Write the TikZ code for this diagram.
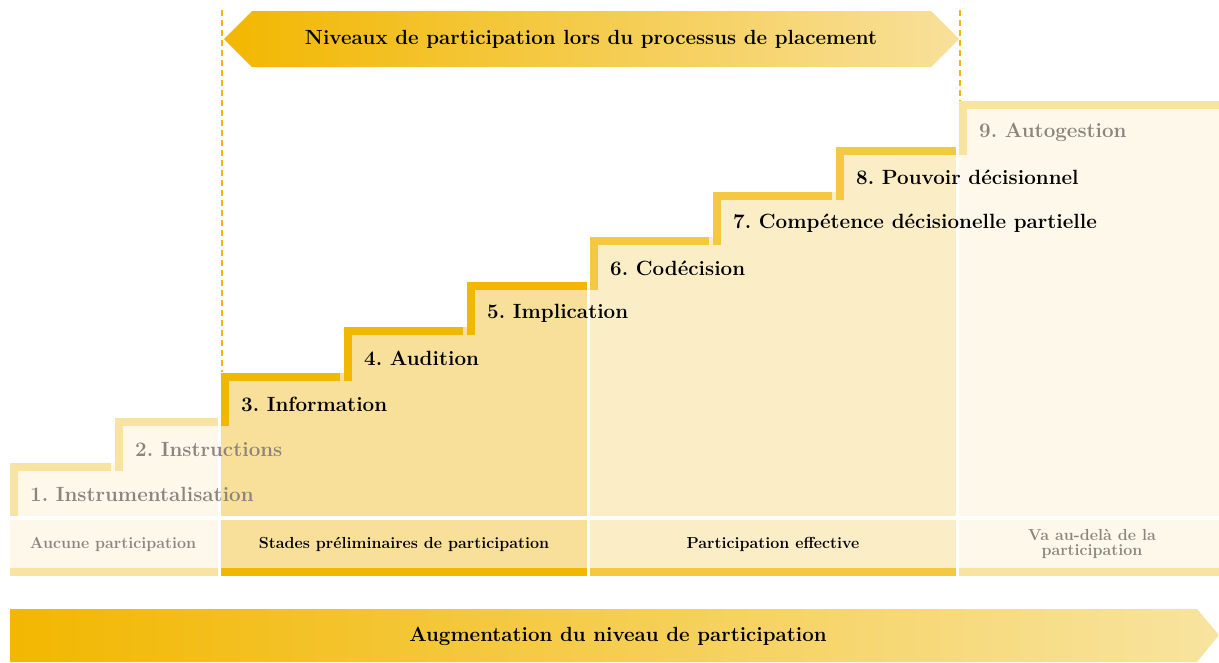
\documentclass[tikz,border=0pt]{standalone}
\usepackage{tikz}
\frenchspacing

\definecolor{goldDark}{HTML}{F2B700}
\definecolor{goldMid}{HTML}{F5C842}
\definecolor{goldPale}{HTML}{F8E4A0}
\definecolor{fillDark}{HTML}{F8E09A}
\definecolor{fillMid}{HTML}{FBEDC6}
\definecolor{fillPale}{HTML}{FDF8E9}
\definecolor{textGray}{HTML}{8A867C}

\begin{document}
\begin{tikzpicture}[x=1pt,y=-1pt,
  stepText/.style={anchor=west,inner sep=0pt,font=\bfseries\fontsize{20.6}{24}\selectfont},
  groupText/.style={align=center,inner sep=0pt,font=\bfseries\fontsize{16}{15}\selectfont},
  bannerText/.style={inner sep=0pt,font=\bfseries\fontsize{20.5}{24}\selectfont},
  guide/.style={goldDark,line width=2pt,dash pattern=on 6pt off 4pt}]
\useasboundingbox (0,0) rectangle (1219,662);

% Dashed guide lines
\draw[guide] (222,10) -- (222,372);
\draw[guide] (960,10) -- (960,101);

% Top banner
\shade[left color=goldDark, right color=fillDark]
 (224,39) -- (252,11) -- (931,11) -- (959,39) -- (931,67) -- (252,67) -- cycle;
\node[bannerText] (banner) at (591,39) {Niveaux de participation lors du processus de placement};

% Group 1: steps 1 and 2
\fill[fillPale] (10,463) rectangle (218,516);
\fill[goldPale] (10,463) rectangle (18,516);
\fill[goldPale] (10,463) rectangle (111,471); % step 1
\fill[fillPale] (115,418) rectangle (218,516);
\fill[goldPale] (115,418) rectangle (123,471);
\fill[goldPale] (115,418) rectangle (218,426); % step 2

% Group 2: steps 3 to 5
\fill[fillDark] (221,373) rectangle (587,516);
\fill[goldDark] (221,373) rectangle (229,426);
\fill[goldDark] (221,373) rectangle (340,381); % step 3
\fill[fillDark] (344,327) rectangle (587,516);
\fill[goldDark] (344,327) rectangle (352,381);
\fill[goldDark] (344,327) rectangle (463,335); % step 4
\fill[fillDark] (467,282) rectangle (587,516);
\fill[goldDark] (467,282) rectangle (475,335);
\fill[goldDark] (467,282) rectangle (587,290); % step 5

% Group 3: steps 6 to 8
\fill[fillMid] (590,237) rectangle (956,516);
\fill[goldMid] (590,237) rectangle (598,290);
\fill[goldMid] (590,237) rectangle (709,245); % step 6
\fill[fillMid] (713,192) rectangle (956,516);
\fill[goldMid] (713,192) rectangle (721,245);
\fill[goldMid] (713,192) rectangle (832,200); % step 7
\fill[fillMid] (836,147) rectangle (956,516);
\fill[goldMid] (836,147) rectangle (844,200);
\fill[goldMid] (836,147) rectangle (956,155); % step 8

% Group 4: step 9
\fill[fillPale] (959,101) rectangle (1219,516);
\fill[goldPale] (959,101) rectangle (967,155);
\fill[goldPale] (959,101) rectangle (1219,109); % step 9

% Group label boxes
\fill[fillPale] (10,520) rectangle (218,568);
\fill[goldPale] (10,568) rectangle (218,576);
\fill[fillDark] (221,520) rectangle (587,568);
\fill[goldDark] (221,568) rectangle (587,576);
\fill[fillMid] (590,520) rectangle (956,568);
\fill[goldMid] (590,568) rectangle (956,576);
\fill[fillPale] (959,520) rectangle (1219,568);
\fill[goldPale] (959,568) rectangle (1219,576);

% Labels for steps
\node[stepText,textGray] (s1) at (30,494) {1. Instrumentalisation};
\node[stepText,textGray] (s2) at (135,449) {2. Instructions};
\node[stepText] (s3) at (241,404) {3. Information};
\node[stepText] (s4) at (364,358) {4. Audition};
\node[stepText] (s5) at (487,313) {5. Implication};
\node[stepText] (s6) at (610,268) {6. Codécision};
\node[stepText] (s7) at (733,223) {7. Compétence décisionelle partielle};
\node[stepText] (s8) at (856,177) {8. Pouvoir décisionnel};
\node[stepText,textGray] (s9) at (979,132) {9. Autogestion};

% Labels for groups
\node[groupText,textGray] (g1) at (113,544) {Aucune participation};
\node[groupText] (g2) at (404,544) {Stades préliminaires de participation};
\node[groupText] (g3) at (773,544) {Participation effective};
\node[groupText,textGray] (g4) at (1092,544) {Va au-delà de la\\participation};

% Bottom arrow
\shade[left color=goldDark, right color=goldPale]
 (10,609) -- (1197,609) -- (1219,635) -- (1197,662) -- (10,662) -- cycle;
\node[bannerText] (axis) at (618,636) {Augmentation du niveau de participation};
\end{tikzpicture}
\end{document}
